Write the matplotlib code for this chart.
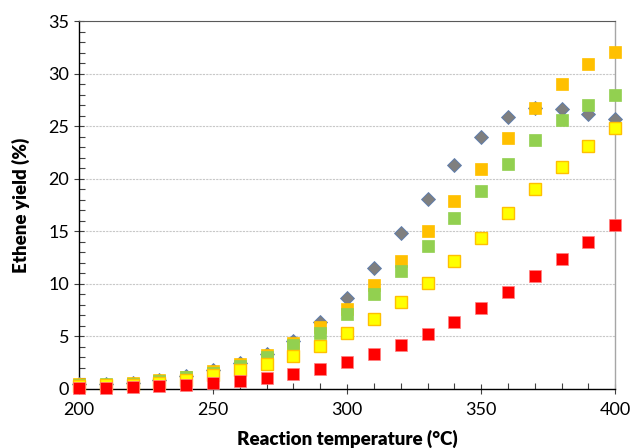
import matplotlib
matplotlib.use("Agg")
import matplotlib.pyplot as plt
from matplotlib.ticker import MultipleLocator

plt.rcParams['font.family'] = ['Lato', 'DejaVu Sans']

# reaction temperature (C)
temps = [200, 210, 220, 230, 240, 250, 260, 270, 280, 290, 300,
         310, 320, 330, 340, 350, 360, 370, 380, 390, 400]

# ethene yield (%) per series
gray = [0.5, 0.5, 0.6, 0.9, 1.2, 1.8, 2.5, 3.3, 4.6, 6.35, 8.7,
        11.5, 14.8, 18.1, 21.3, 24.0, 25.9, 26.75, 26.6, 26.2, 25.7]
orange = [0.45, 0.35, 0.57, 0.86, 1.14, 1.71, 2.38, 3.24, 4.38, 5.85, 7.65,
          9.9, 12.2, 15.0, 17.9, 20.96, 23.9, 26.7, 29.05, 30.95, 32.1]
green = [0.4, 0.45, 0.5, 0.75, 1.1, 1.52, 2.22, 3.05, 4.16, 5.37, 7.1,
         9.0, 11.2, 13.6, 16.3, 18.8, 21.4, 23.7, 25.6, 27.05, 28.0]
yellow = [0.3, 0.35, 0.4, 0.55, 0.85, 1.3, 1.8, 2.41, 3.17, 4.1, 5.3,
          6.7, 8.3, 10.1, 12.2, 14.4, 16.7, 19.0, 21.15, 23.15, 24.8]
red = [0.12, 0.12, 0.2, 0.3, 0.4, 0.6, 0.78, 1.07, 1.45, 1.92, 2.6,
       3.3, 4.2, 5.2, 6.4, 7.7, 9.2, 10.75, 12.4, 14.0, 15.6]

fig = plt.figure(figsize=(6.31, 4.48), dpi=100)
ax = fig.add_axes([0.125, 0.1317, 0.85, 0.8213])

ax.plot(temps, gray, 'D', ms=7.5, mfc='#7F7F7F', mec='#5B7DB1', mew=0.6, clip_on=False, zorder=3)
ax.plot(temps, orange, 's', ms=8.6, mfc='#FFC000', mec='#FFC000', mew=0.5, clip_on=False, zorder=4)
ax.plot(temps, green, 's', ms=8.6, mfc='#92D050', mec='#92D050', mew=0.5, clip_on=False, zorder=5)
ax.plot(temps, yellow, 's', ms=8.0, mfc='#FFFF00', mec='#FFC000', mew=1.0, clip_on=False, zorder=6)
ax.plot(temps, red, 's', ms=8.6, mfc='#FF0000', mec='#FF8080', mew=0.5, clip_on=False, zorder=7)

ax.set_xlim(200, 400)
ax.set_ylim(0, 35)
ax.xaxis.set_major_locator(MultipleLocator(50))
ax.xaxis.set_minor_locator(MultipleLocator(10))
ax.yaxis.set_major_locator(MultipleLocator(5))
ax.yaxis.set_minor_locator(MultipleLocator(1))

ax.grid(axis='y', which='major', color='#C8C8C8', linestyle=(0, (2, 1)), linewidth=0.8)
ax.set_axisbelow(True)

for side in ['left', 'bottom']:
    ax.spines[side].set_color('black')
    ax.spines[side].set_linewidth(1.0)
ax.spines['top'].set_color('#595959')
ax.spines['top'].set_linewidth(0.8)
ax.spines['right'].set_color('#A6A6A6')
ax.spines['right'].set_linewidth(1.0)

ax.tick_params(which='major', direction='inout', length=7, width=0.8, labelsize=13, color='#404040')
ax.tick_params(which='minor', direction='in', length=4, width=0.8, color='#404040')
ax.tick_params(axis='x', pad=6)

ax.set_xlabel('Reaction temperature (°C)', fontsize=13.5, fontweight='heavy', labelpad=8)
ax.set_ylabel('Ethene yield (%)', fontsize=13.5, fontweight='heavy', labelpad=13)

fig.savefig('out.png', dpi=100)
